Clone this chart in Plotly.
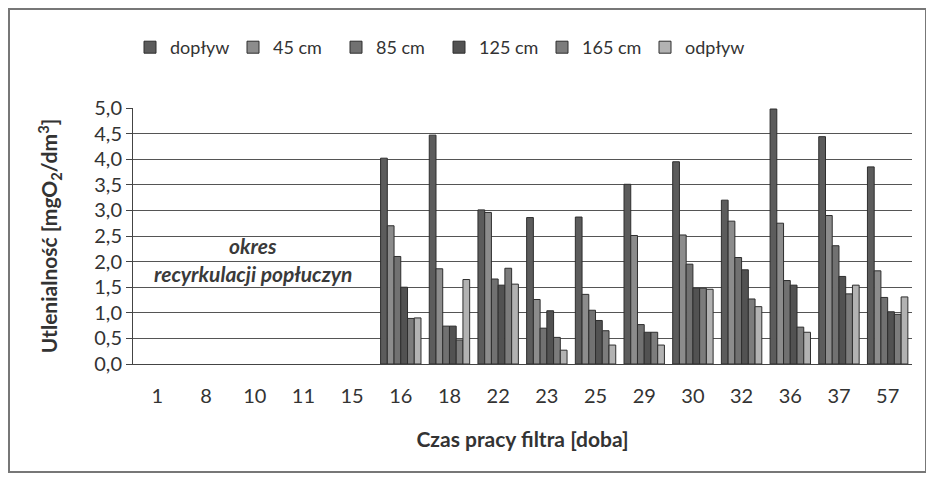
import plotly.graph_objects as go

categories = ["1", "8", "10", "11", "15", "16", "18", "22", "23", "25", "29", "30", "32", "36", "37", "57"]
series_names = ["dopływ", "45 cm", "85 cm", "125 cm", "165 cm", "odpływ"]

dopływ = [None, None, None, None, None, 4.02, 4.47, 3.01, 2.86, 2.87, 3.51, 3.95, 3.20, 4.98, 4.44, 3.85]
cm45 = [None, None, None, None, None, 2.70, 1.86, 2.96, 1.26, 1.36, 2.51, 2.52, 2.79, 2.75, 2.90, 1.82]
cm85 = [None, None, None, None, None, 2.10, 0.74, 1.66, 0.70, 1.05, 0.77, 1.95, 2.08, 1.63, 2.31, 1.30]
cm125 = [None, None, None, None, None, 1.50, 0.74, 1.54, 1.04, 0.85, 0.62, 1.48, 1.84, 1.54, 1.71, 1.02]
cm165 = [None, None, None, None, None, 0.89, 0.47, 1.87, 0.52, 0.65, 0.62, 1.48, 1.27, 0.72, 1.37, 0.97]
odpływ = [None, None, None, None, None, 0.90, 1.65, 1.56, 0.27, 0.37, 0.37, 1.46, 1.12, 0.62, 1.54, 1.31]

y_ticks = [0.0, 0.5, 1.0, 1.5, 2.0, 2.5, 3.0, 3.5, 4.0, 4.5, 5.0]

values = [dopływ, cm45, cm85, cm125, cm165, odpływ]
colors = ["#5c5c5c", "#8c8c8c", "#717171", "#525252", "#7c7c7c", "#b2b2b2"]

# page has an 8px body margin; work in screen coordinates
OFF = 8
W, H = 934 - OFF, 482 - OFF
PL, PR, PT, PB = 133, 912, 108, 364  # plot area on screen
L, R, T, B = PL - OFF, (W + OFF) - PR, PT - OFF, (H + OFF) - PB
pw, ph = PR - PL, PB - PT

def px(x):
    return (x - PL) / pw

def py(y):
    return (PB - y) / ph

FONT = "Lato, 'Open Sans', sans-serif"
TXT = "#333333"

fig = go.Figure()
for name, vals, col in zip(series_names, values, colors):
    fig.add_trace(go.Bar(
        x=categories, y=vals, name=name,
        marker=dict(color=col, line=dict(color="#2e2e2e", width=1)),
    ))

fig.update_layout(
    width=W, height=H,
    margin=dict(l=L, r=R, t=T, b=B, autoexpand=False),
    paper_bgcolor="white", plot_bgcolor="white",
    separators=", ",
    barmode="group", bargap=0.17, bargroupgap=0,
    font=dict(family=FONT, color=TXT, size=19),
    legend=dict(
        orientation="h", x=px(130), y=py(29), xanchor="left", yanchor="top",
        font=dict(size=18, color=TXT), entrywidth=58, entrywidthmode="pixels",
        itemwidth=30,
    ),
    xaxis=dict(
        type="category", categoryorder="array", categoryarray=categories,
        showline=True, linecolor="#444444", linewidth=1, automargin=False,
        ticks="", tickfont=dict(size=20, color=TXT), ticklabelstandoff=14,
        title=dict(text="<b>Czas pracy filtra [doba]</b>", font=dict(size=21, color=TXT), standoff=26),
    ),
    yaxis=dict(
        range=[0, 5.0], tickvals=y_ticks, tickformat=".1f", automargin=False,
        showgrid=True, gridcolor="#555555", gridwidth=1,
        showline=True, linecolor="#444444", linewidth=1,
        ticks="outside", ticklen=6, tickcolor="#444444",
        tickfont=dict(size=20, color=TXT),
        title=dict(text="<b>Utlenialność [mgO<sub>2</sub>/dm<sup>3</sup>]</b>", font=dict(size=21, color=TXT), standoff=30),
        zeroline=False,
    ),
    annotations=[
        dict(text="<b><i>okres</i></b>", x=px(253), y=py(245), xref="paper", yref="paper",
             xanchor="center", yanchor="middle",
             showarrow=False, font=dict(size=21, color="#3a3a3a")),
        dict(text="<b><i>recyrkulacji popłuczyn</i></b>", x=px(253), y=py(273), xref="paper", yref="paper",
             xanchor="center", yanchor="middle",
             showarrow=False, font=dict(size=21, color="#3a3a3a")),
    ],
    shapes=[
        dict(type="rect", xref="paper", yref="paper", x0=px(9), x1=px(926), y0=py(9), y1=py(472),
             line=dict(color="#777777", width=2), fillcolor="rgba(0,0,0,0)", layer="below"),
    ],
)

fig.write_html("out.html")
